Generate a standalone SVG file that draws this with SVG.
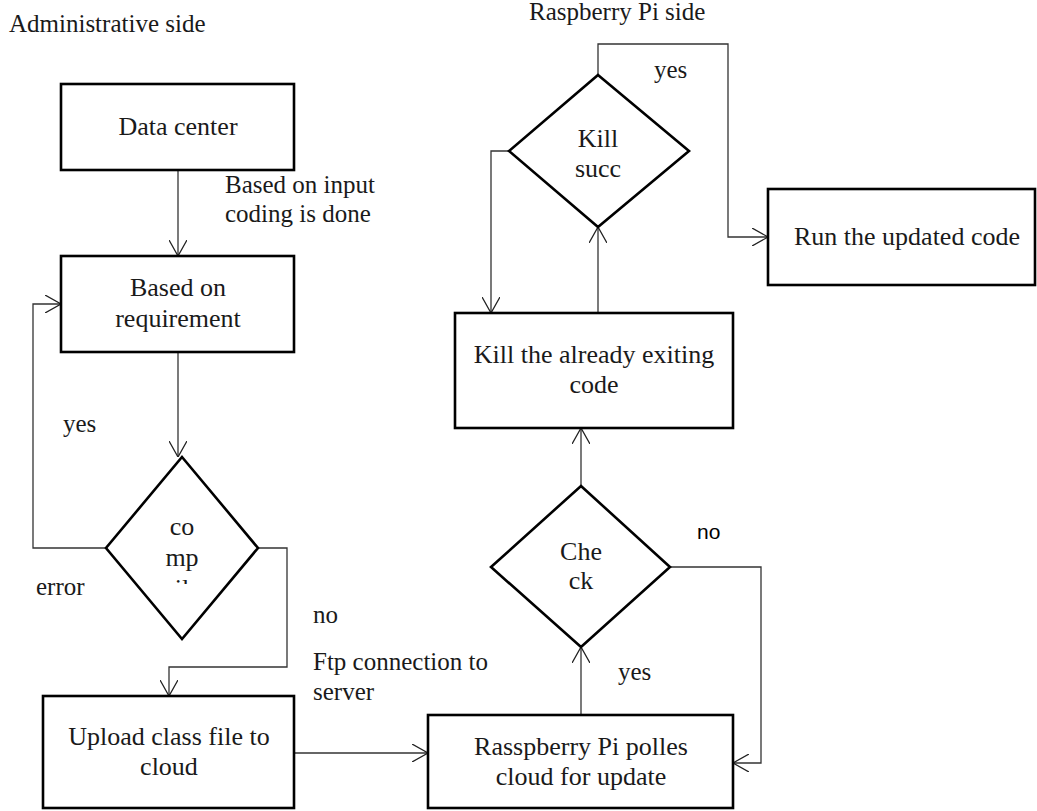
<svg xmlns="http://www.w3.org/2000/svg" width="1037" height="811" viewBox="0 0 1037 811">
<style>
  .box { fill: #fff; stroke: #000; stroke-width: 2.6; }
  .dia { fill: #fff; stroke: #000; stroke-width: 2.6; stroke-linejoin: miter; }
  .t { font-family: "Liberation Serif", "Times New Roman", serif; font-size: 25px; fill: #1a1a1a; }
  .n { font-size: 26px; }
  .c { text-anchor: middle; }
  .s { font-family: "Liberation Sans", Arial, sans-serif; font-size: 21px; fill: #000; }
  .conn { fill: none; stroke: #333; stroke-width: 1.3; }
</style>
<defs>
  <marker id="arr" viewBox="0 0 16 18" refX="16" refY="9" markerWidth="16" markerHeight="18" markerUnits="userSpaceOnUse" orient="auto">
    <path d="M0,0 L16,9 L0,18" fill="none" stroke="#222" stroke-width="1.3"/>
  </marker>
  <clipPath id="clipComp">
    <rect x="100" y="450" width="170" height="134"/>
  </clipPath>
</defs>
<rect width="1037" height="811" fill="#fff"/>

<g id="labels">
  <text class="t" x="9" y="32">Administrative side</text>
  <text class="t" x="529" y="20">Raspberry Pi side</text>
  <text class="t" x="225" y="193">Based on input</text>
  <text class="t" x="225" y="222">coding is done</text>
  <text class="t" x="63" y="432">yes</text>
  <text class="t" x="36" y="595">error</text>
  <text class="t" x="313" y="623">no</text>
  <text class="t" x="313" y="670">Ftp connection to</text>
  <text class="t" x="313" y="700">server</text>
  <text class="t" x="654" y="78">yes</text>
  <text class="s" x="697" y="539">no</text>
  <text class="t" x="618" y="680">yes</text>
</g>

<g id="connectors">
  <line class="conn" x1="178" y1="170" x2="178" y2="256" marker-end="url(#arr)"/>
  <line class="conn" x1="178" y1="352" x2="178" y2="457" marker-end="url(#arr)"/>
  <polyline class="conn" points="107,548 33,548 33,304 61,304" marker-end="url(#arr)"/>
  <polyline class="conn" points="258,548 287,548 287,667 169,667 169,696" marker-end="url(#arr)"/>
  <line class="conn" x1="294" y1="753" x2="428" y2="753" marker-end="url(#arr)"/>
  <line class="conn" x1="581" y1="715" x2="581" y2="647" marker-end="url(#arr)"/>
  <polyline class="conn" points="670,567 761,567 761,763 733,763" marker-end="url(#arr)"/>
  <line class="conn" x1="581" y1="486" x2="581" y2="428" marker-end="url(#arr)"/>
  <line class="conn" x1="598" y1="313" x2="598" y2="227" marker-end="url(#arr)"/>
  <polyline class="conn" points="509,151 491,151 491,313" marker-end="url(#arr)"/>
  <polyline class="conn" points="598,75 598,44 728,44 728,237 768,237" marker-end="url(#arr)"/>
</g>

<g id="data-center">
  <rect class="box" x="61" y="84" width="233" height="86"/>
  <text class="t n c" x="178" y="135">Data center</text>
</g>

<g id="requirement">
  <rect class="box" x="61" y="256" width="233" height="96"/>
  <text class="t n c" x="178" y="296">Based on</text>
  <text class="t n c" x="178" y="327">requirement</text>
</g>

<g id="compile">
  <polygon class="dia" points="182,457 258,548 182,639 106,548"/>
  <text class="t n c" x="182" y="535">co</text>
  <text class="t n c" x="182" y="566">mp</text>
  <text class="t n c" x="182" y="597" clip-path="url(#clipComp)">il</text>
</g>

<g id="upload">
  <rect class="box" x="43" y="696" width="251" height="112"/>
  <text class="t n c" x="169" y="745">Upload class file to</text>
  <text class="t n c" x="169" y="775">cloud</text>
</g>

<g id="poll">
  <rect class="box" x="428" y="715" width="305" height="93"/>
  <text class="t n c" x="581" y="755">Rasspberry Pi polles</text>
  <text class="t n c" x="581" y="785">cloud for update</text>
</g>

<g id="check">
  <polygon class="dia" points="581,486 670,567 581,647 491,567"/>
  <text class="t n c" x="581" y="560">Che</text>
  <text class="t n c" x="581" y="589">ck</text>
</g>

<g id="kill">
  <rect class="box" x="455" y="313" width="278" height="115"/>
  <text class="t n c" x="594" y="363">Kill the already exiting</text>
  <text class="t n c" x="594" y="393">code</text>
</g>

<g id="kill-succ">
  <polygon class="dia" points="598,75 689,151 598,227 509,151"/>
  <text class="t n c" x="598" y="147">Kill</text>
  <text class="t n c" x="598" y="177">succ</text>
</g>

<g id="run">
  <rect class="box" x="768" y="189" width="267" height="96"/>
  <text class="t n c" x="907" y="245">Run the updated code</text>
</g>
</svg>
